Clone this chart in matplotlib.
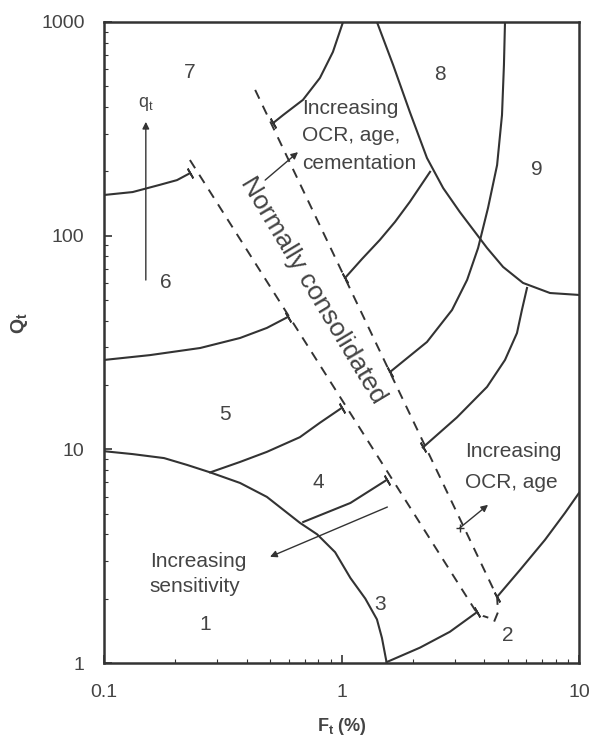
import numpy as np
import matplotlib
matplotlib.use("Agg")
import matplotlib.pyplot as plt
from matplotlib.ticker import FixedLocator, FixedFormatter, LogLocator, NullFormatter

plt.rcParams.update({
    "font.family": ["Liberation Sans", "DejaVu Sans"],
    "mathtext.fontset": "custom",
    "mathtext.rm": "Liberation Sans",
    "mathtext.it": "Liberation Sans",
    "mathtext.bf": "Liberation Sans:bold",
})

# Soil behaviour type boundaries (F_t in %, Q_t)
zone1_F = [0.10, 0.132, 0.179, 0.224, 0.28, 0.374, 0.485, 0.668, 0.79, 0.94, 1.09, 1.26, 1.41, 1.48, 1.55]
zone1_Q = [9.8, 9.5, 9.1, 8.45, 7.8, 6.96, 5.99, 4.53, 4.0, 3.3, 2.5, 2.0, 1.6, 1.31, 1.0]

zone23_F = [1.55, 2.14, 2.86, 3.72]
zone23_Q = [1.01, 1.18, 1.40, 1.73]

zone29_F = [4.52, 5.65, 7.19, 8.73, 10.0]
zone29_Q = [2.04, 2.73, 3.77, 5.04, 6.25]

zone45_F = [0.28, 0.374, 0.485, 0.668, 0.81, 1.0]
zone45_Q = [7.8, 8.73, 9.73, 11.4, 13.3, 15.6]

zone4_F = [0.69, 1.09, 1.55]
zone4_Q = [4.57, 5.61, 7.19]

zone56_F = [0.10, 0.156, 0.254, 0.374, 0.485, 0.596]
zone56_Q = [26.2, 27.6, 29.8, 33.2, 37.0, 41.7]

zone67_F = [0.10, 0.132, 0.172, 0.203, 0.230]
zone67_Q = [155, 160, 173, 182, 196]

zone78_F = [0.516, 0.568, 0.688, 0.811, 0.92, 1.015]
zone78_Q = [337, 367, 432, 547, 724, 1000]

zone8_F = [1.41, 1.65, 1.94, 2.29, 2.68, 3.15, 4.10, 4.79, 5.81, 7.55, 10.0]
zone8_Q = [1000, 629, 379, 231, 167, 129, 87.6, 71.4, 60.1, 53.9, 52.8]

zone89_F = [4.88, 4.83, 4.74, 4.52, 4.14, 3.76, 3.38, 2.92, 2.29, 1.60]
zone89_Q = [1000, 629, 367, 214, 135, 87.6, 62.1, 44.9, 31.8, 23.0]

upper_F = [2.36, 1.94, 1.68, 1.45, 1.22, 1.035]
upper_Q = [199, 144, 116, 95.5, 77.8, 63.4]

lower_F = [6.04, 5.75, 5.48, 4.88, 4.10, 3.06, 2.20]
lower_Q = [56.9, 44.9, 35.0, 26.2, 19.6, 14.1, 10.2]

# Normally consolidated band
nc_left_F = [0.230, 3.65, 3.95, 4.15]
nc_left_Q = [226, 1.77, 1.66, 1.63]
nc_right_F = [0.433, 4.52, 4.56, 4.39]
nc_right_Q = [481, 2.04, 1.73, 1.56]

zone_labels = ["1", "2", "3", "4", "5", "6", "7", "8", "9"]
zone_F = [0.266, 5.02, 1.45, 0.796, 0.323, 0.182, 0.230, 2.60, 6.65]
zone_Q = [1.51, 1.35, 1.87, 7.03, 14.5, 60.1, 583, 565, 203]

fig = plt.figure(figsize=(5.92, 7.4), dpi=100)
ax = fig.add_axes([104 / 592, 1 - 663 / 740, 475 / 592, 641 / 740])
ax.set_xscale("log")
ax.set_yscale("log")
ax.set_xlim(0.1, 10)
ax.set_ylim(1, 1000)

lc = "#333333"
tc = "#444444"
lw = 1.5


def curve(F, Q, tick=None):
    ax.plot(F, Q, color=lc, lw=lw, solid_joinstyle="round")
    if tick is not None:
        ax.plot(F[tick], Q[tick], marker=(2, 2, 30), ms=8, mew=1.3, color=lc)


curve(zone1_F, zone1_Q)
curve(zone23_F, zone23_Q, -1)
curve(zone29_F, zone29_Q, 0)
curve(zone45_F, zone45_Q, -1)
curve(zone4_F, zone4_Q, -1)
curve(zone56_F, zone56_Q, -1)
curve(zone67_F, zone67_Q, -1)
curve(zone78_F, zone78_Q, 0)
curve(zone8_F, zone8_Q)
curve(zone89_F, zone89_Q, -1)
curve(upper_F, upper_Q, -1)
curve(lower_F, lower_Q, -1)

for F, Q in [(nc_left_F, nc_left_Q), (nc_right_F, nc_right_Q)]:
    ax.plot(F, Q, color=lc, lw=1.4, dashes=(5, 4))

for lab, f, q in zip(zone_labels, zone_F, zone_Q):
    ax.text(f, q, lab, fontsize=15, color=tc, ha="center", va="center")

# arrows and notes
arrow = dict(arrowstyle="-|>", color=lc, lw=1.0, mutation_scale=10,
             shrinkA=0, shrinkB=0)
ax.annotate("", xy=(0.150, 341), xytext=(0.150, 62), arrowprops=arrow)
ax.text(0.150, 415, r"q$_\mathrm{t}$", fontsize=13, color=tc, ha="center", va="center")

ax.annotate("", xy=(0.656, 246), xytext=(0.477, 182), arrowprops=arrow)
ax.text(0.68, 293, "Increasing\nOCR, age,\ncementation", fontsize=15, color=tc,
        ha="left", va="center", linespacing=1.55)

ax.annotate("", xy=(0.50, 3.14), xytext=(1.56, 5.37), arrowprops=arrow)
ax.text(0.156, 2.61, "Increasing\nsensitivity", fontsize=15, color=tc,
        ha="left", va="center", linespacing=1.45)

ax.annotate("", xy=(4.14, 5.50), xytext=(3.15, 4.29), arrowprops=arrow)
ax.plot(3.15, 4.29, marker="+", ms=6, mew=1.0, color=lc)
ax.text(3.31, 8.27, "Increasing\nOCR, age", fontsize=15, color=tc,
        ha="left", va="center", linespacing=1.8)

ax.text(0.759, 55.7, "Normally consolidated", fontsize=19, color=tc,
        ha="center", va="center", rotation=-59, rotation_mode="anchor")

# axes styling
for s in ax.spines.values():
    s.set_linewidth(1.8)
    s.set_color(lc)

ax.xaxis.set_major_locator(FixedLocator([0.1, 1, 10]))
ax.xaxis.set_major_formatter(FixedFormatter(["0.1", "1", "10"]))
ax.yaxis.set_major_locator(FixedLocator([1, 10, 100, 1000]))
ax.yaxis.set_major_formatter(FixedFormatter(["1", "10", "100", "1000"]))
for a in (ax.xaxis, ax.yaxis):
    a.set_minor_locator(LogLocator(base=10, subs=np.arange(2, 10)))
    a.set_minor_formatter(NullFormatter())
ax.tick_params(which="both", direction="in", colors=lc, labelcolor=tc,
               labelsize=14, top=False, right=False)
ax.tick_params(which="major", length=6, width=1.2)
ax.tick_params(which="minor", length=3, width=0.8)
ax.tick_params(axis="x", pad=15)
ax.tick_params(axis="y", pad=14)

ax.set_xlabel(r"$\mathbf{F_t}$ $\mathbf{(\%)}$", fontsize=13, color=tc)
ax.xaxis.set_label_coords(0.5, -0.082)
ax.set_ylabel(r"$\mathbf{Q_t}$", fontsize=14, color=tc)
ax.yaxis.set_label_coords(-0.155, 0.53)

fig.savefig("out.png", dpi=100)
